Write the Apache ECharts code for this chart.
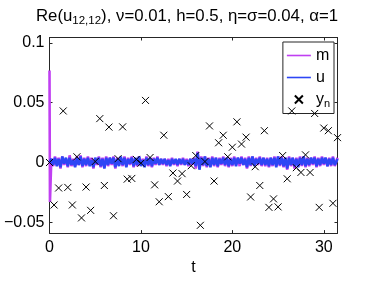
<!DOCTYPE html>
<html>
<head>
<meta charset="utf-8">
<script src="https://cdn.jsdelivr.net/npm/echarts@6/dist/echarts.min.js"></script>
<style>html,body{margin:0;padding:0;background:#fff;}#c{width:374px;height:281px;}</style>
</head>
<body>
<div id="c"></div>
<script>
// time grid for the m and u trajectories
const tLine = [
0,0.05,0.2,0.4,0.6,0.8,1,1.2,1.4,1.6,1.8,2,2.2,2.4,2.6,2.8,3,3.2,3.4,3.6,3.8,
4,4.2,4.4,4.6,4.8,5,5.2,5.4,5.6,5.8,6,6.2,6.4,6.6,6.8,7,7.2,7.4,7.6,7.8,
8,8.2,8.4,8.6,8.8,9,9.2,9.4,9.6,9.8,10,10.2,10.4,10.6,10.8,11,11.2,11.4,11.6,11.8,
12,12.2,12.4,12.6,12.8,13,13.2,13.4,13.6,13.8,14,14.2,14.4,14.6,14.8,15,15.2,15.4,15.6,15.8,
16,16.2,16.4,16.6,16.8,17,17.2,17.4,17.6,17.8,18,18.2,18.4,18.6,18.8,19,19.2,19.4,19.6,19.8,
20,20.2,20.4,20.6,20.8,21,21.2,21.4,21.6,21.8,22,22.2,22.4,22.6,22.8,23,23.2,23.4,23.6,23.8,
24,24.2,24.4,24.6,24.8,25,25.2,25.4,25.6,25.8,26,26.2,26.4,26.6,26.8,27,27.2,27.4,27.6,27.8,
28,28.2,28.4,28.6,28.8,29,29.2,29.4,29.6,29.8,30,30.2,30.4,30.6,30.8,31,31.2,31.5
];
const mVals = [
0.077,-0.033,0.003,-0.003,0.005,-0.002,0.004,-0.005,0.005,-0.002,0.003,-0.004,0.006,-0.003,0.003,-0.003,0.005,-0.002,0.006,-0.004,0.004,
-0.003,0.005,-0.002,0.004,-0.005,0.003,-0.002,0.005,-0.004,0.004,-0.004,0.005,-0.003,0.004,-0.002,0.005,-0.005,0.004,-0.002,0.004,
-0.003,0.005,-0.003,0.004,-0.002,0.005,-0.004,0.003,-0.003,0.005,-0.002,0.003,-0.003,0.005,-0.003,0.004,-0.004,0.004,-0.002,0.005,
-0.002,0.003,-0.002,0.003,-0.003,0.003,-0.002,0.004,-0.002,0.002,-0.003,0.003,-0.002,0.004,-0.002,0.003,-0.003,0.003,-0.002,0.004,
-0.005,0.009,-0.004,0.005,-0.003,0.005,-0.004,0.004,-0.003,0.005,-0.003,0.004,-0.004,0.004,-0.002,0.005,-0.003,0.004,-0.004,0.004,
-0.003,0.005,-0.002,0.004,-0.003,0.005,-0.002,0.004,-0.005,0.005,-0.003,0.005,-0.002,0.004,-0.002,0.005,-0.003,0.004,-0.003,0.004,
-0.004,0.004,-0.003,0.005,-0.003,0.005,-0.003,0.005,-0.004,0.004,-0.006,0.005,-0.003,0.004,-0.005,0.004,-0.003,0.005,-0.003,0.005,
-0.004,0.004,-0.003,0.004,-0.002,0.005,-0.004,0.004,-0.003,0.005,-0.002,0.004,-0.003,0.004,-0.003,0.005,-0.003,0.004
];
const uVals = [
0,0.001,0.003,-0.002,0.004,-0.003,0.003,-0.004,0.005,-0.001,0.004,-0.003,0.004,-0.002,0.002,-0.004,0.004,-0.002,0.005,-0.003,0.003,
-0.002,0.004,-0.003,0.002,-0.004,0.004,-0.001,0.004,-0.003,0.003,-0.005,0.004,-0.002,0.004,-0.001,0.004,-0.004,0.003,-0.003,0.005,
-0.002,0.004,-0.004,0.003,-0.001,0.004,-0.003,0.004,-0.002,0.005,-0.003,0.002,-0.004,0.004,-0.002,0.004,-0.003,0.003,-0.001,0.004,
-0.002,0.003,-0.001,0.003,-0.002,0.002,-0.003,0.003,-0.001,0.003,-0.002,0.003,-0.001,0.003,-0.002,0.002,-0.002,0.003,-0.001,0.003,
-0.003,0.008,-0.006,0.004,-0.002,0.005,-0.003,0.003,-0.004,0.004,-0.002,0.004,-0.003,0.003,-0.001,0.004,-0.002,0.004,-0.003,0.003,
-0.002,0.004,-0.003,0.004,-0.001,0.004,-0.002,0.003,-0.004,0.004,-0.002,0.005,-0.003,0.003,-0.001,0.004,-0.002,0.004,-0.002,0.003,
-0.003,0.004,-0.002,0.004,-0.004,0.005,-0.002,0.004,-0.003,0.004,-0.005,0.004,-0.002,0.004,-0.003,0.003,-0.004,0.004,-0.002,0.005,
-0.003,0.003,-0.002,0.004,-0.001,0.004,-0.003,0.003,-0.002,0.004,-0.001,0.004,-0.003,0.003,-0.002,0.004,-0.002,0.003
];
// observation times and observations
const tObs = [0,0.5,1,1.5,2,2.5,3,3.5,4,4.5,5,5.5,6,6.5,7,7.5,8,8.5,9,9.5,10,10.5,11,11.5,12,12.5,13,13.5,14,14.5,15,15.5,
16,16.5,17,17.5,18,18.5,19,19.5,20,20.5,21,21.5,22,22.5,23,23.5,24,24.5,25,25.5,26,26.5,27,27.5,28,28.5,29,29.5,30,30.5,31,31.5];
const yObs = [
0.0,-0.0355,-0.0213,0.0431,-0.0208,-0.0355,0.0048,-0.0463,-0.0205,-0.0400,
0.0008,0.0367,-0.0192,0.0296,-0.0445,0.0032,0.0298,-0.0139,-0.0133,0.0026,
-0.0006,0.0519,0.0042,-0.0187,-0.0328,0.0228,-0.0285,-0.0088,-0.0155,-0.0093,
-0.0267,-0.0027,0.0058,-0.0525,0.0008,0.0306,-0.0155,0.0165,0.0228,0.0048,
0.0128,0.0340,0.0154,0.0212,-0.0288,-0.0035,-0.0192,0.0266,-0.0375,-0.0304,
-0.0371,0.0058,-0.0136,0.0431,-0.0043,-0.0083,0.0064,-0.0083,0.0410,-0.0375,
0.0288,0.0266,-0.0341,0.0208
];
const xTicks = [0,10,20,30];
const yTicks = [-0.05,0,0.05,0.1];
const yTickLabels = ['\u22120.05','0','0.05','0.1'];
const seriesNames = ['m','u','y_n'];

const FONT = 'Liberation Sans, Arial, Helvetica, sans-serif';
const xPath = 'path://M0,0L10,10M10,0L0,10';
const linePath = 'path://M0,0L24,0L24,1.6L0,1.6Z';
const axisCol = '#262626';
const colM = '#c03ff2', colU = '#2d46f5';

const chart = echarts.init(document.getElementById('c'), null, {renderer:'canvas'});
const pair = (xs, ys) => xs.map((x,i)=>[x, ys[i]]);

chart.setOption({
  animation:false,
  backgroundColor:'#fff',
  textStyle:{fontFamily:FONT},
  title:{
    text:'Re(u{s|12,12}), \u03bd=0.01, h=0.5, \u03b7=\u03c3=0.04, \u03b1=1',
    left:'center', top:1,
    textStyle:{fontSize:16.8, fontWeight:'normal', color:'#000', fontFamily:FONT,
      rich:{s:{fontSize:11.5, fontFamily:FONT, color:'#000', padding:[9,0,0,0]}}}
  },
  grid:{left:49.5, top:37.5, width:288, height:205, show:false},
  xAxis:[{
    type:'value', min:0, max:31.5, position:'bottom',
    name:'t', nameLocation:'middle', nameGap:23,
    nameTextStyle:{fontSize:16, color:'#000', fontFamily:FONT},
    axisLine:{show:true, onZero:false, lineStyle:{color:axisCol, width:1}},
    axisTick:{show:true, inside:true, length:3, customValues:xTicks, lineStyle:{color:axisCol}},
    axisLabel:{show:true, customValues:xTicks, fontSize:16, color:'#000', margin:6, fontFamily:FONT},
    splitLine:{show:false}
  },{
    type:'value', min:0, max:31.5, position:'top',
    axisLine:{show:true, onZero:false, lineStyle:{color:axisCol, width:1}},
    axisTick:{show:true, inside:true, length:3, customValues:xTicks, lineStyle:{color:axisCol}},
    axisLabel:{show:false}, splitLine:{show:false}
  }],
  yAxis:[{
    type:'value', min:-0.059, max:0.1045, position:'left',
    axisLine:{show:true, onZero:false, lineStyle:{color:axisCol, width:1}},
    axisTick:{show:true, inside:true, length:3, customValues:yTicks, lineStyle:{color:axisCol}},
    axisLabel:{show:true, customValues:yTicks, fontSize:16, color:'#000', margin:5, fontFamily:FONT,
      formatter:(v)=>{const i=yTicks.findIndex(t=>Math.abs(t-v)<1e-9); return i>=0?yTickLabels[i]:'';}},
    splitLine:{show:false}
  },{
    type:'value', min:-0.059, max:0.1045, position:'right',
    axisLine:{show:true, onZero:false, lineStyle:{color:axisCol, width:1}},
    axisTick:{show:true, inside:true, length:3, customValues:yTicks, lineStyle:{color:axisCol}},
    axisLabel:{show:false}, splitLine:{show:false}
  }],
  legend:{
    orient:'vertical', right:40, top:42,
    padding:[5,4,4,4], itemGap:5, itemWidth:24, itemHeight:8,
    borderColor:axisCol, borderWidth:1, borderRadius:0, backgroundColor:'#fff',
    textStyle:{fontSize:16, color:'#000', fontFamily:FONT, lineHeight:17,
      rich:{y:{fontSize:16, fontFamily:FONT, color:'#000'}, n:{fontSize:11, fontFamily:FONT, color:'#000', padding:[9,0,0,0]}}},
    formatter:(name)=> name==='y_n' ? '{y|y}{n|n}' : name,
    data:[{name:seriesNames[0], icon:linePath},{name:seriesNames[1], icon:linePath},{name:seriesNames[2], icon:xPath}]
  },
  series:[{
    name:seriesNames[0], type:'line', data:pair(tLine,mVals), symbol:'none',
    lineStyle:{color:colM, width:2.6}, itemStyle:{color:colM}, z:2
  },{
    name:seriesNames[1], type:'line', data:pair(tLine,uVals), symbol:'none',
    lineStyle:{color:colU, width:2.6}, itemStyle:{color:colU}, z:3
  },{
    name:seriesNames[2], type:'scatter', data:pair(tObs,yObs), symbol:xPath, symbolSize:7,
    itemStyle:{color:'rgba(0,0,0,0)', borderColor:'#000', borderWidth:1, opacity:1}, z:4
  }]
});
</script>
</body>
</html>
